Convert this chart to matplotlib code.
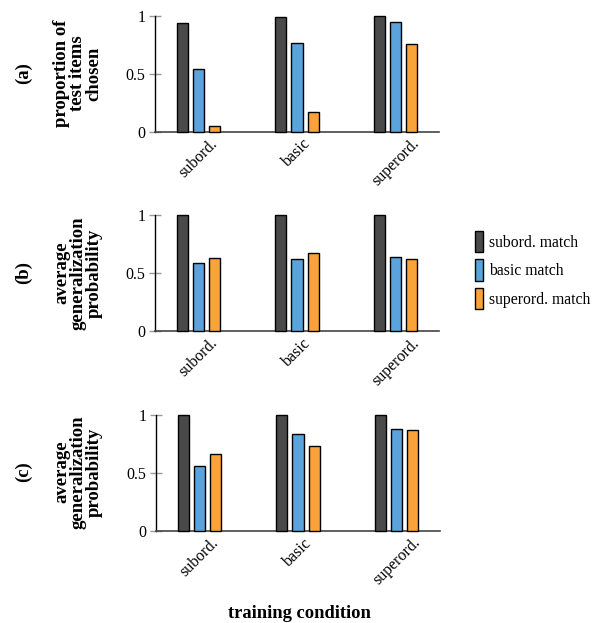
import matplotlib
matplotlib.use("Agg")
import matplotlib.pyplot as plt
import numpy as np
from matplotlib.patches import Patch

plt.rcParams['font.family'] = ['Liberation Serif', 'DejaVu Serif']

conditions = ["subord.", "basic", "superord."]
series = ["subord. match", "basic match", "superord. match"]
colors = ["#4a4a4a", "#5aa3dc", "#f9a33a"]

panel_a = {"subord. match": [0.94, 0.99, 1.00],
           "basic match": [0.54, 0.77, 0.95],
           "superord. match": [0.05, 0.17, 0.76]}
panel_b = {"subord. match": [1.00, 1.00, 1.00],
           "basic match": [0.59, 0.62, 0.64],
           "superord. match": [0.63, 0.67, 0.62]}
panel_c = {"subord. match": [1.00, 1.00, 1.00],
           "basic match": [0.56, 0.84, 0.88],
           "superord. match": [0.66, 0.73, 0.87]}

panels = [panel_a, panel_b, panel_c]
letters = ["(a)", "(b)", "(c)"]
ylabels = ["proportion of\ntest items\nchosen",
           "average\ngeneralization\nprobability",
           "average\ngeneralization\nprobability"]

W, H = 592, 623
fig = plt.figure(figsize=(W / 100, H / 100), dpi=100)

# axes geometry in pixels: (left, right, y_of_1, y_of_0)
geo = [(155, 439, 16, 131.5), (155, 439, 215.3, 331), (156, 440, 415, 530.7)]
label_y = [73.5, 273, 472]

x = np.arange(len(conditions))
step = 0.1625
width = 0.112

for i, (data, g) in enumerate(zip(panels, geo)):
    l, r, t, b = g
    ax = fig.add_axes([l / W, 1 - b / H, (r - l) / W, (b - t) / H])
    for j, s in enumerate(series):
        ax.bar(x + (j - 1) * step, data[s], width, color=colors[j],
               edgecolor="black", linewidth=1.0, clip_on=False, zorder=3)
    ax.set_xlim(-0.44, 2.44)
    ax.set_ylim(0, 1)
    ax.set_yticks([0, 0.5, 1])
    ax.set_yticklabels(["0", "0.5", "1"], fontsize=11.5)
    ax.set_xticks(x)
    ax.set_xticklabels(conditions, rotation=45, ha="center", fontsize=11.5)
    ax.tick_params(axis="x", length=0, pad=3)
    ax.tick_params(axis="y", length=8, direction="inout", color="#999999",
                   pad=3, width=1.0)
    for sp in ["top", "right"]:
        ax.spines[sp].set_visible(False)
    ax.spines["left"].set_color("black")
    ax.spines["bottom"].set_color("#444444")
    ax.spines["left"].set_linewidth(1.0)
    ax.spines["bottom"].set_linewidth(1.2)
    fig.text(78 / W, 1 - label_y[i] / H, ylabels[i], rotation=90,
             ha="center", va="center", fontsize=13.5, fontweight="bold",
             linespacing=0.95)
    fig.text(23 / W, 1 - label_y[i] / H, letters[i], rotation=90,
             ha="center", va="center", fontsize=13.5, fontweight="bold")

handles = [Patch(facecolor=c, edgecolor="black", linewidth=1.0) for c in colors]
fig.legend(handles, series, loc="center left",
           bbox_to_anchor=(475 / W, 1 - 270 / H), frameon=False,
           fontsize=11.3, handlelength=0.5, handleheight=1.77,
           handletextpad=0.4, labelspacing=0.42, borderpad=0,
           borderaxespad=0)

fig.text(299 / W, 1 - 614 / H, "training condition", ha="center",
         va="center", fontsize=13.3, fontweight="bold")

fig.savefig("out.png", dpi=100)
